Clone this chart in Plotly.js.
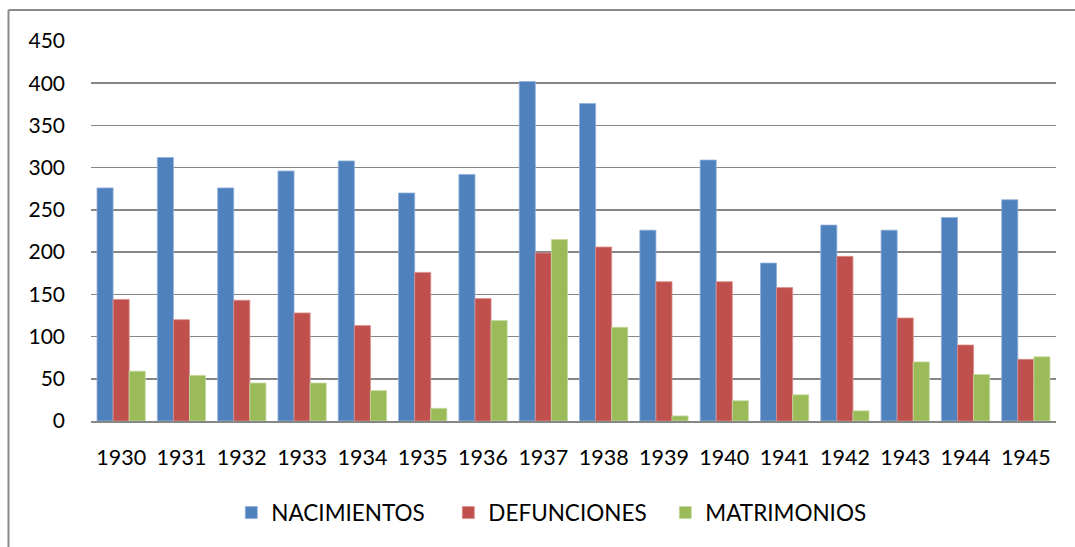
<!DOCTYPE html>
<html>
<head>
<meta charset="utf-8">
<script src="https://cdn.plot.ly/plotly-3.0.1.min.js"></script>
<style>
html,body{margin:0;padding:0;background:#fff;overflow:hidden;}
#chart{width:1075px;height:547px;}
</style>
</head>
<body>
<div id="chart"></div>
<script>
var years = ["1930","1931","1932","1933","1934","1935","1936","1937","1938","1939","1940","1941","1942","1943","1944","1945"];
var nacimientos = [276, 312, 276, 296, 308, 270, 292, 402, 376, 226, 309, 187, 232, 226, 241, 262];
var defunciones = [144, 120, 143, 128, 113, 176, 145, 199, 206, 165, 165, 158, 195, 122, 90, 73];
var matrimonios = [59, 54, 45, 45, 36, 15, 119, 215, 111, 6, 24, 31, 12, 70, 55, 76];
var seriesNames = ["NACIMIENTOS", "DEFUNCIONES", "MATRIMONIOS"];
var yTicks = [0, 50, 100, 150, 200, 250, 300, 350, 400, 450];

var colors = ["#4F81BD", "#C0504D", "#9BBB59"];
var edges = ["#8FB0DA", "#DA8E8C", "#C4D9A0"];
var series = [nacimientos, defunciones, matrimonios];
var FONT = "Lato, Carlito, Calibri, 'Open Sans', sans-serif";

var traces = series.map(function(vals, i){
  return {
    type: "bar",
    name: seriesNames[i],
    x: years,
    y: vals,
    marker: {color: colors[i], line: {color: edges[i], width: 0.8}},
    hoverinfo: "x+y+name"
  };
});

var layout = {
  width: 1075,
  height: 547,
  margin: {l: 91, r: 19, t: 41, b: 126},
  paper_bgcolor: "#ffffff",
  plot_bgcolor: "#ffffff",
  barmode: "group",
  bargap: 0.2,
  bargroupgap: 0,
  font: {family: FONT, size: 20, color: "#000000"},
  showlegend: true,
  legend: {
    orientation: "h",
    x: 0.4827, xanchor: "center",
    y: -0.242, yanchor: "middle",
    font: {family: FONT, size: 22.5, color: "#000000"},
    traceorder: "normal",
    itemclick: false,
    entrywidth: 172
  },
  xaxis: {
    type: "category",
    tickvals: years,
    ticktext: years,
    showgrid: false,
    showline: true,
    linecolor: "#868686",
    linewidth: 2,
    ticks: "",
    tickfont: {family: FONT, size: 21.5, color: "#000000"},
    ticklabelstandoff: 16,
    zeroline: false
  },
  yaxis: {
    range: [0, 450],
    tickvals: yTicks,
    ticktext: yTicks.map(String),
    showgrid: true,
    gridcolor: "#868686",
    gridwidth: 1.6,
    zeroline: false,
    showline: false,
    ticks: "",
    ticklabelstandoff: 25,
    tickfont: {family: FONT, size: 21, color: "#000000"}
  },
  shapes: [
    {type: "line", xref: "paper", yref: "paper", x0: -0.0855, x1: 1.2, y0: 1.0816, y1: 1.0816,
     line: {color: "#8a8a8a", width: 2}},
    {type: "line", xref: "paper", yref: "paper", x0: -0.0855, x1: -0.0855, y0: 1.0816, y1: -0.6,
     line: {color: "#8a8a8a", width: 2}}
  ]
};

Plotly.newPlot("chart", traces, layout, {displayModeBar: false, staticPlot: true});
</script>
</body>
</html>
